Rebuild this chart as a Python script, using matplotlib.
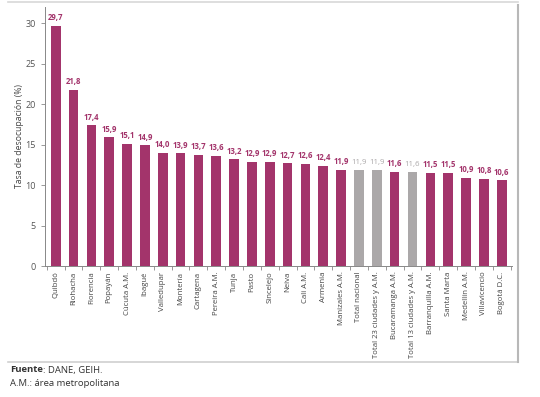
import matplotlib.pyplot as plt
from matplotlib.lines import Line2D

plt.rcParams['font.family'] = ['Open Sans', 'DejaVu Sans']

ciudades = ['Quibdó', 'Riohacha', 'Florencia', 'Popayán', 'Cúcuta A.M.', 'Ibagué',
            'Valledupar', 'Montería', 'Cartagena', 'Pereira A.M.', 'Tunja', 'Pasto',
            'Sincelejo', 'Neiva', 'Cali A.M.', 'Armenia', 'Manizales A.M.',
            'Total nacional', 'Total 23 ciudades y A.M.', 'Bucaramanga A.M.',
            'Total 13 ciudades y A.M.', 'Barranquilla A.M.', 'Santa Marta',
            'Medellín A.M.', 'Villavicencio', 'Bogotá D.C.']
tasa = [29.7, 21.8, 17.4, 15.9, 15.1, 14.9, 14.0, 13.9, 13.7, 13.6, 13.2, 12.9,
        12.9, 12.7, 12.6, 12.4, 11.9, 11.9, 11.9, 11.6, 11.6, 11.5, 11.5, 10.9,
        10.8, 10.6]
totales = ['Total nacional', 'Total 23 ciudades y A.M.', 'Total 13 ciudades y A.M.']

magenta = '#A3346B'
gris = '#ABA8A9'

fig = plt.figure(figsize=(5.4, 3.97), dpi=100)
ax = fig.add_axes([45 / 540, 1 - 266 / 397, (511.5 - 45) / 540, (266 - 7) / 397])

x = range(len(ciudades))
colores = [gris if c in totales else magenta for c in ciudades]
ax.bar(x, tasa, width=0.54, color=colores)

for i, (c, v) in enumerate(zip(ciudades, tasa)):
    es_total = c in totales
    ax.text(i, v + 0.45, f'{v:.1f}'.replace('.', ','), ha='center', va='bottom',
            fontsize=5.6, color=gris if es_total else magenta,
            fontweight='normal' if es_total else 'bold')

ax.set_xlim(-0.6, 25.55)
ax.set_ylim(0, 32)
ax.set_yticks([0, 5, 10, 15, 20, 25, 30])
ax.tick_params(axis='y', labelsize=6.5, labelcolor='#555555', color='#888888',
               length=3, width=0.6)
ax.set_xticks(list(x))
ax.set_xticklabels(ciudades, rotation=90, fontsize=5.6, color='#444444')
ax.tick_params(axis='x', length=0, pad=4)
ax.set_xticks([i + 0.5 for i in range(-1, len(ciudades))], minor=True)
ax.tick_params(axis='x', which='minor', length=3, width=0.6, color='#888888')

for s in ['top', 'right']:
    ax.spines[s].set_visible(False)
for s in ['left', 'bottom']:
    ax.spines[s].set_color('#888888')
    ax.spines[s].set_linewidth(0.7)

ax.set_ylabel('Tasa de desocupación (%)', fontsize=6.2, color='#444444', labelpad=1)

# marco del recuadro
fig.add_artist(Line2D([8 / 540, 518 / 540], [1 - 1.5 / 397, 1 - 1.5 / 397],
                      color='#d8d8d8', lw=1.2, transform=fig.transFigure))
fig.add_artist(Line2D([8 / 540, 518 / 540], [1 - 362 / 397, 1 - 362 / 397],
                      color='#d0d0d0', lw=1.2, transform=fig.transFigure))
fig.add_artist(Line2D([518 / 540, 518 / 540], [1 - 5 / 397, 1 - 362 / 397],
                      color='#b8b8b8', lw=1.5, transform=fig.transFigure))

t = fig.text(10 / 540, 1 - 370 / 397, 'Fuente', fontsize=6.8, va='center',
             color='#333333', fontweight='bold')
fig.canvas.draw()
bb = t.get_window_extent()
fig.text(bb.x1 / 540, 1 - 370 / 397, ': DANE, GEIH.', fontsize=6.8, va='center',
         color='#333333')
fig.text(10 / 540, 1 - 383 / 397, 'A.M.: área metropolitana', fontsize=6.8,
         va='center', color='#333333')

fig.savefig('out.png', dpi=100)
